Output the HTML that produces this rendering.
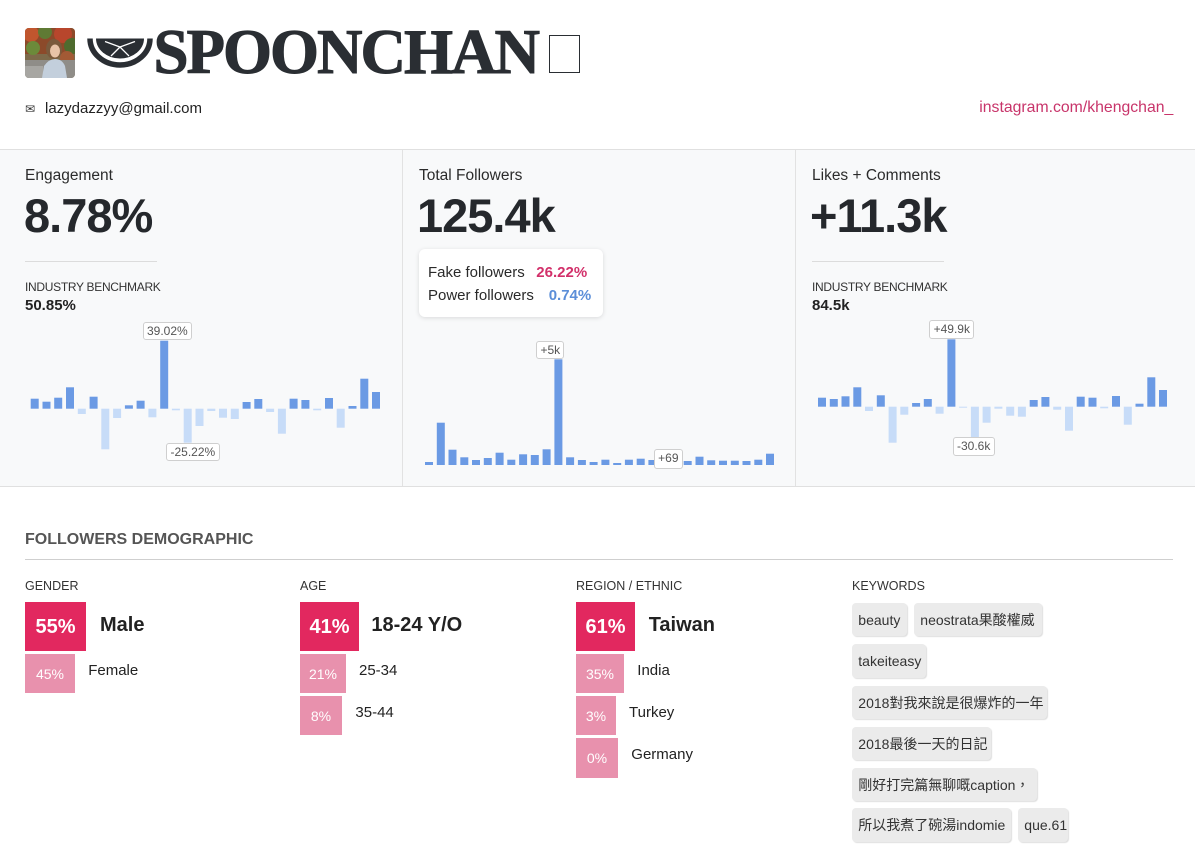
<!DOCTYPE html>
<html><head><meta charset="utf-8"><style>
*{margin:0;padding:0;box-sizing:border-box}
body{width:1195px;height:861px;overflow:hidden;background:#fff;font-family:"Liberation Sans","Noto Sans CJK TC",sans-serif;color:#333;position:relative}
.a{position:absolute;white-space:nowrap;line-height:1}
.lbl{position:absolute;background:#fff;border:1px solid #cfcfcf;border-radius:3px;font-size:12px;color:#555;text-align:center;white-space:nowrap}
.big{position:absolute;font-size:47px;font-weight:bold;color:#25282c;letter-spacing:-1px;line-height:1;white-space:nowrap}
.cap{position:absolute;font-size:15.5px;color:#2b2b2b;line-height:1;white-space:nowrap}
.ib{position:absolute;font-size:12px;color:#333;letter-spacing:-0.3px;line-height:1;white-space:nowrap}
.bv{position:absolute;font-size:15px;font-weight:bold;color:#222;line-height:1;white-space:nowrap}
.hr{position:absolute;height:1px;background:#dcdcdc}
.sh{position:absolute;font-size:12.5px;color:#333;line-height:1;white-space:nowrap}
.bb{position:absolute;background:#e2285f;color:#fff;font-weight:bold;font-size:20px;text-align:center;line-height:50px;white-space:nowrap}
.sb{position:absolute;background:#e891ad;color:#fff;font-size:14px;text-align:center;line-height:40px;white-space:nowrap;height:38.5px}
.bl{position:absolute;font-weight:bold;font-size:20px;color:#222;line-height:47.5px;white-space:nowrap}
.sl{position:absolute;font-size:15px;color:#222;line-height:34.6px;white-space:nowrap}
.tag{position:absolute;height:33.3px;background:#ebebeb;border-radius:4px;box-shadow:1px 1px 1px rgba(0,0,0,0.13);font-size:14px;color:#333;line-height:35px;padding-left:6px;white-space:nowrap;overflow:visible}
</style></head><body>

<!-- avatar -->
<svg style="position:absolute;left:25px;top:28px" width="50" height="50" viewBox="0 0 50 50">
<defs><clipPath id="cp"><rect x="0" y="0" width="50" height="50" rx="4"/></clipPath></defs>
<g clip-path="url(#cp)">
<rect width="50" height="50" fill="#7d6a4a"/>
<rect width="50" height="26" fill="#8c4a2a"/>
<circle cx="6" cy="6" r="8" fill="#c0562e"/>
<circle cx="20" cy="4" r="7" fill="#5f7a34"/>
<circle cx="38" cy="6" r="9" fill="#b8462c"/>
<circle cx="47" cy="18" r="8" fill="#4e6b2e"/>
<circle cx="8" cy="20" r="7" fill="#6c8a3a"/>
<circle cx="42" cy="30" r="7" fill="#a35a35"/>
<rect x="0" y="32" width="50" height="18" fill="#8f8d88"/>
<rect x="0" y="38" width="18" height="12" fill="#a7a6a2"/>
<ellipse cx="29" cy="21" rx="8" ry="10" fill="#7a5a3c"/>
<ellipse cx="30" cy="23" rx="5" ry="6.5" fill="#e8c4a8"/>
<path d="M17 50 L19 38 Q24 31 30 31 Q37 31 40 38 L42 50 Z" fill="#c3cfdc"/>
</g></svg>

<!-- logo -->
<svg style="position:absolute;left:85px;top:30px" width="72" height="45" viewBox="0 0 72 45">
<path d="M5 8.5 A30 26.5 0 0 0 65 8.5" fill="none" stroke="#2a2e33" stroke-width="5.5"/>
<path d="M11 8.5 L59 8.5 A24 20 0 0 1 11 8.5 Z" fill="#2a2e33"/>
<path d="M35 17 L20 11.5 M35 17 L50 11.5 M35 17 L26 26 M35 17 L44 26" stroke="#fff" stroke-width="1.3" fill="none"/>
</svg>

<div class="a" style="left:153.5px;top:20.5px;font-family:'Liberation Serif',serif;font-weight:bold;font-size:63px;letter-spacing:-2px;color:#2a2e33;-webkit-text-stroke:1px #2a2e33">SPOONCHAN</div>
<div style="position:absolute;left:549.3px;top:35px;width:30.7px;height:38.3px;border:1.5px solid #2a2e33;background:#fff"></div>

<div class="a" style="left:25px;top:103px;font-size:12px;font-family:'DejaVu Sans',sans-serif;color:#333">✉</div>
<div class="a" style="left:45px;top:100.5px;font-size:15px;color:#222">lazydazzyy@gmail.com</div>
<div class="a" style="right:21.7px;top:99.6px;font-size:15.8px;color:#c8346a">instagram.com/khengchan_</div>

<!-- panels -->
<div style="position:absolute;left:0;top:149px;width:1195px;height:338px;background:#f8f9fa;border-top:1px solid #e0e0e0;border-bottom:1px solid #e0e0e0"></div>
<div style="position:absolute;left:402px;top:150px;width:1px;height:336px;background:#e2e2e2"></div>
<div style="position:absolute;left:795px;top:150px;width:1px;height:336px;background:#e2e2e2"></div>

<div class="cap" style="left:25px;top:168.4px">Engagement</div>
<div class="cap" style="left:419px;top:168.4px">Total Followers</div>
<div class="cap" style="left:812px;top:168.4px">Likes + Comments</div>

<div class="big" style="left:24px;top:191.9px">8.78%</div>
<div class="big" style="left:417px;top:191.9px">125.4k</div>
<div class="big" style="left:810px;top:191.9px">+11.3k</div>

<div class="hr" style="left:25px;top:261px;width:132px"></div>
<div class="hr" style="left:812px;top:261px;width:132px"></div>

<div class="ib" style="left:25px;top:280.5px">INDUSTRY BENCHMARK</div>
<div class="ib" style="left:812px;top:280.5px">INDUSTRY BENCHMARK</div>
<div class="bv" style="left:25px;top:298px">50.85%</div>
<div class="bv" style="left:812px;top:298px">84.5k</div>

<!-- popup -->
<div style="position:absolute;left:419px;top:249.3px;width:184px;height:68px;background:#fff;border-radius:6px;box-shadow:0 1px 5px rgba(0,0,0,0.13)"></div>
<div class="a" style="left:428px;top:264.6px;font-size:15px;color:#2a2a2a">Fake followers</div>
<div class="a" style="left:536.3px;top:264.6px;font-size:15px;font-weight:bold;color:#d2306a">26.22%</div>
<div class="a" style="left:428px;top:288.3px;font-size:15px;color:#2a2a2a">Power followers</div>
<div class="a" style="left:548.7px;top:288.3px;font-size:15px;font-weight:bold;color:#5b8ed8">0.74%</div>

<!-- bars -->
<svg style="position:absolute;left:0;top:0" width="1195" height="861">
<g fill="#6b9ae4">
<rect x="30.7" y="398.7" width="8" height="10"/>
<rect x="42.5" y="401.7" width="8" height="7"/>
<rect x="54.2" y="397.7" width="8" height="11"/>
<rect x="66" y="387.3" width="8" height="21.4"/>
<rect x="89.6" y="396.7" width="8" height="12"/>
<rect x="124.9" y="405.3" width="8" height="3.4"/>
<rect x="136.6" y="400.7" width="8" height="8"/>
<rect x="160.2" y="340.7" width="8" height="68"/>
<rect x="242.6" y="402" width="8" height="6.7"/>
<rect x="254.3" y="399" width="8" height="9.7"/>
<rect x="289.6" y="398.7" width="8" height="10"/>
<rect x="301.4" y="400" width="8" height="8.7"/>
<rect x="325" y="398" width="8" height="10.7"/>
<rect x="348.5" y="406" width="8" height="2.7"/>
<rect x="360.3" y="378.7" width="8" height="30"/>
<rect x="372" y="392" width="8" height="16.7"/>

<rect x="818" y="397.7" width="8" height="9"/>
<rect x="829.8" y="399" width="8" height="7.7"/>
<rect x="841.5" y="396.3" width="8" height="10.4"/>
<rect x="853.3" y="387.3" width="8" height="19.4"/>
<rect x="876.8" y="395.3" width="8" height="11.4"/>
<rect x="912.1" y="403" width="8" height="3.7"/>
<rect x="923.8" y="399" width="8" height="7.7"/>
<rect x="947.4" y="339.3" width="8" height="67.4"/>
<rect x="1029.7" y="400" width="8" height="6.7"/>
<rect x="1041.4" y="397" width="8" height="9.7"/>
<rect x="1076.7" y="396.7" width="8" height="10"/>
<rect x="1088.5" y="397.7" width="8" height="9"/>
<rect x="1112" y="396" width="8" height="10.7"/>
<rect x="1135.5" y="403.7" width="8" height="3"/>
<rect x="1147.3" y="377.3" width="8" height="29.4"/>
<rect x="1159" y="390" width="8" height="16.7"/>

<rect x="425" y="462" width="8" height="3"/>
<rect x="436.8" y="422.7" width="8" height="42.3"/>
<rect x="448.5" y="449.7" width="8" height="15.3"/>
<rect x="460.3" y="457.3" width="8" height="7.7"/>
<rect x="472" y="460" width="8" height="5"/>
<rect x="483.8" y="458" width="8" height="7"/>
<rect x="495.6" y="452.7" width="8" height="12.3"/>
<rect x="507.3" y="459.7" width="8" height="5.3"/>
<rect x="519.1" y="454.3" width="8" height="10.7"/>
<rect x="530.8" y="455" width="8" height="10"/>
<rect x="542.6" y="449.3" width="8" height="15.7"/>
<rect x="554.4" y="359.3" width="8" height="105.7"/>
<rect x="566.1" y="457.3" width="8" height="7.7"/>
<rect x="577.9" y="460" width="8" height="5"/>
<rect x="589.6" y="462" width="8" height="3"/>
<rect x="601.4" y="459.7" width="8" height="5.3"/>
<rect x="613.2" y="463" width="8" height="2"/>
<rect x="624.9" y="459.7" width="8" height="5.3"/>
<rect x="636.7" y="458.7" width="8" height="6.3"/>
<rect x="648.4" y="460" width="8" height="5"/>
<rect x="660.2" y="462" width="8" height="3"/>
<rect x="672" y="462" width="8" height="3"/>
<rect x="683.7" y="461" width="8" height="4"/>
<rect x="695.5" y="456.7" width="8" height="8.3"/>
<rect x="707.2" y="460.3" width="8" height="4.7"/>
<rect x="719" y="460.7" width="8" height="4.3"/>
<rect x="730.8" y="460.7" width="8" height="4.3"/>
<rect x="742.5" y="461" width="8" height="4"/>
<rect x="754.3" y="459.7" width="8" height="5.3"/>
<rect x="766" y="453.7" width="8" height="11.3"/>
</g>
<g fill="#c7dcf8">
<rect x="77.8" y="408.7" width="8" height="5.3"/>
<rect x="101.3" y="408.7" width="8" height="40.6"/>
<rect x="113.1" y="408.7" width="8" height="9.3"/>
<rect x="148.4" y="408.7" width="8" height="8.6"/>
<rect x="171.9" y="408.7" width="8" height="1.6"/>
<rect x="183.7" y="408.7" width="8" height="34"/>
<rect x="195.5" y="408.7" width="8" height="17.3"/>
<rect x="207.3" y="408.7" width="8" height="2.3"/>
<rect x="219" y="408.7" width="8" height="9"/>
<rect x="230.8" y="408.7" width="8" height="10.3"/>
<rect x="266.1" y="408.7" width="8" height="3.3"/>
<rect x="277.9" y="408.7" width="8" height="25"/>
<rect x="313.2" y="408.7" width="8" height="1.6"/>
<rect x="336.7" y="408.7" width="8" height="19"/>

<rect x="865" y="406.7" width="8" height="4.3"/>
<rect x="888.6" y="406.7" width="8" height="36"/>
<rect x="900.3" y="406.7" width="8" height="8"/>
<rect x="935.6" y="406.7" width="8" height="7"/>
<rect x="959.1" y="406.7" width="8" height="1"/>
<rect x="970.9" y="406.7" width="8" height="30.3"/>
<rect x="982.6" y="406.7" width="8" height="16"/>
<rect x="994.4" y="406.7" width="8" height="2"/>
<rect x="1006.2" y="406.7" width="8" height="9"/>
<rect x="1017.9" y="406.7" width="8" height="10"/>
<rect x="1053.2" y="406.7" width="8" height="3"/>
<rect x="1065" y="406.7" width="8" height="24"/>
<rect x="1100.2" y="406.7" width="8" height="1.6"/>
<rect x="1123.8" y="406.7" width="8" height="18"/>
</g>
</svg>

<div class="lbl" style="left:142.7px;top:322px;width:49.3px;height:18.3px;line-height:16.3px">39.02%</div>
<div class="lbl" style="left:165.7px;top:442.7px;width:54.3px;height:18.6px;line-height:16.6px">-25.22%</div>
<div class="lbl" style="left:536.3px;top:340.7px;width:28px;height:18.6px;line-height:16.6px">+5k</div>
<div class="lbl" style="left:653.7px;top:449.3px;width:29.3px;height:19.4px;line-height:17.4px">+69</div>
<div class="lbl" style="left:929.3px;top:320px;width:45px;height:19.3px;line-height:17.3px">+49.9k</div>
<div class="lbl" style="left:952.7px;top:437.3px;width:42px;height:18.4px;line-height:16.4px">-30.6k</div>

<!-- demographic -->
<div class="a" style="left:25px;top:531.5px;font-size:16px;font-weight:bold;color:#555">FOLLOWERS DEMOGRAPHIC</div>
<div style="position:absolute;left:25px;top:559px;width:1148px;height:1px;background:#cfcfcf"></div>

<div class="sh" style="left:25px;top:580.1px">GENDER</div>
<div class="sh" style="left:300px;top:580.1px">AGE</div>
<div class="sh" style="left:576px;top:580.1px">REGION / ETHNIC</div>
<div class="sh" style="left:852px;top:580.1px">KEYWORDS</div>

<!-- gender -->
<div class="bb" style="left:25px;top:602px;width:61px;height:48.7px">55%</div>
<div class="bl" style="left:100px;top:602px">Male</div>
<div class="sb" style="left:25px;top:654.3px;width:50px">45%</div>
<div class="sl" style="left:88.2px;top:654.3px">Female</div>

<!-- age -->
<div class="bb" style="left:300px;top:602px;width:59px;height:48.7px">41%</div>
<div class="bl" style="left:371.4px;top:602px">18-24 Y/O</div>
<div class="sb" style="left:300px;top:654.3px;width:46px">21%</div>
<div class="sl" style="left:359px;top:654.3px">25-34</div>
<div class="sb" style="left:300px;top:696.3px;width:42px">8%</div>
<div class="sl" style="left:355.4px;top:696.3px">35-44</div>

<!-- region -->
<div class="bb" style="left:576px;top:602px;width:59px;height:48.7px">61%</div>
<div class="bl" style="left:648.7px;top:602px">Taiwan</div>
<div class="sb" style="left:576px;top:654.3px;width:48px">35%</div>
<div class="sl" style="left:637.3px;top:654.3px">India</div>
<div class="sb" style="left:576px;top:696.3px;width:40px">3%</div>
<div class="sl" style="left:629px;top:696.3px">Turkey</div>
<div class="sb" style="left:576px;top:738.3px;width:42px;height:39.4px">0%</div>
<div class="sl" style="left:631.3px;top:738.3px">Germany</div>

<!-- keywords -->
<div class="tag" style="left:852.3px;top:602.7px;width:54.4px">beauty</div>
<div class="tag" style="left:914.3px;top:602.7px;width:127.4px">neostrata果酸權威</div>
<div class="tag" style="left:852.3px;top:644.3px;width:73.4px">takeiteasy</div>
<div class="tag" style="left:852.3px;top:685.7px;width:194.4px">2018對我來說是很爆炸的一年</div>
<div class="tag" style="left:852.3px;top:726.7px;width:138.4px">2018最後一天的日記</div>
<div class="tag" style="left:852.3px;top:767.7px;width:184.7px">剛好打完篇無聊嘅caption，</div>
<div class="tag" style="left:852.3px;top:808.3px;width:158.4px">所以我煮了碗湯indomie</div>
<div class="tag" style="left:1018.3px;top:808.3px;width:50px">que.61</div>

</body></html>
